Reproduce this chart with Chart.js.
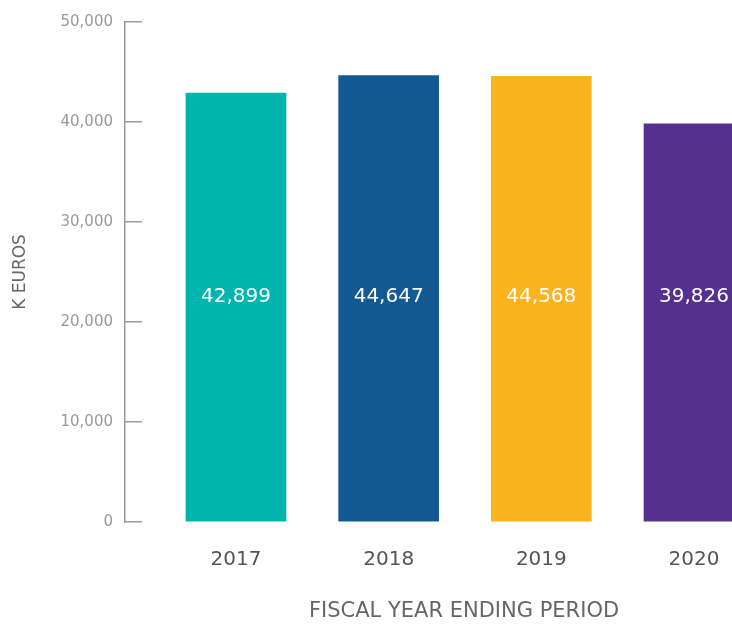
<!DOCTYPE html>
<html>
<head>
<meta charset="utf-8">
<script src="https://cdn.jsdelivr.net/npm/chart.js@4/dist/chart.umd.min.js"></script>
<style>
	html, body { margin: 0; padding: 0; background: #fff; overflow: hidden; }
	#wrap { position: relative; width: 803px; height: 632px; }
</style>
</head>
<body>
<div id="wrap"><canvas id="chart"></canvas></div>
<script>
const years = [2017, 2018, 2019, 2020];
const revenue = [42899, 44647, 44568, 39826];
const barColors = ["#00b5ad", "#135a94", "#fbb41e", "#55308f"];
const yTickValues = [0, 10000, 20000, 30000, 40000, 50000];

const FONT = "'DejaVu Sans', sans-serif";
const LABEL_LEVEL = 22500; // value labels sit at this height on the y scale

const valueLabels = {
	id: "valueLabels",
	afterDatasetsDraw(chart) {
		const ctx = chart.ctx;
		const meta = chart.getDatasetMeta(0);
		const y = chart.scales.y.getPixelForValue(LABEL_LEVEL);
		ctx.save();
		ctx.fillStyle = "#ffffff";
		ctx.font = "20px " + FONT;
		ctx.textAlign = "center";
		ctx.textBaseline = "middle";
		meta.data.forEach((bar, i) => {
			ctx.fillText(revenue[i].toLocaleString("en-US"), bar.x, y);
		});
		ctx.restore();
	},
};

new Chart(document.getElementById("chart"), {
	type: "bar",
	data: {
		labels: years,
		datasets: [
			{
				label: "K Euros",
				data: revenue,
				backgroundColor: barColors,
				borderWidth: 0,
				barThickness: 100,
			},
		],
	},
	options: {
		responsive: true,
		maintainAspectRatio: false,
		animation: false,
		layout: { padding: { top: 22, right: 0, bottom: 0, left: 0 } },
		plugins: {
			legend: { display: false },
			tooltip: { enabled: false },
		},
		scales: {
			x: {
				type: "linear",
				bounds: "data",
				offset: false,
				min: 2016.273,
				max: 2020.714,
				afterBuildTicks(scale) {
					scale.ticks = years.map((v) => ({ value: v }));
				},
				grid: { display: false, drawTicks: false },
				border: { display: false },
				ticks: {
					autoSkip: false,
					maxRotation: 0,
					padding: 26,
					color: "#555555",
					font: { family: FONT, size: 20 },
					callback: (value) => String(value),
				},
				title: {
					display: true,
					text: "FISCAL YEAR ENDING PERIOD",
					color: "#666666",
					font: { family: FONT, size: 21 },
					padding: { top: 0, bottom: 8 },
				},
				afterFit(scale) {
					scale.height = 110;
				},
			},
			y: {
				min: 0,
				max: 50000,
				afterBuildTicks(scale) {
					scale.ticks = yTickValues.map((v) => ({ value: v }));
				},
				grid: {
					drawOnChartArea: false,
					drawTicks: true,
					tickLength: -17,
					color: "#9a9a9a",
					lineWidth: 1.5,
				},
				border: { display: true, color: "#9a9a9a", width: 1.5 },
				ticks: {
					padding: 29,
					color: "#999999",
					font: { family: FONT, size: 15 },
					callback: (value) => value.toLocaleString("en-US"),
				},
				title: {
					display: true,
					text: "K EUROS",
					color: "#666666",
					font: { family: FONT, size: 17 },
					padding: { top: 10, bottom: 0 },
				},
				afterFit(scale) {
					scale.width = 125;
					// label padding would otherwise push the plot area down
					scale.paddingTop = 0;
					scale.paddingBottom = 0;
				},
			},
		},
	},
	plugins: [valueLabels],
});
</script>
</body>
</html>
